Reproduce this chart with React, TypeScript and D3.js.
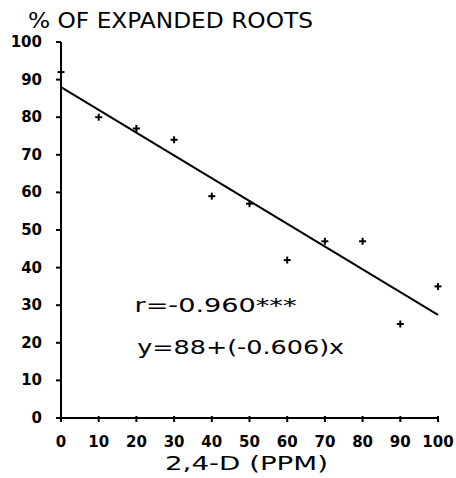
import React from "react";
import * as d3 from "d3";

// 2,4-D concentration (ppm) and % of expanded roots
const ppm = [0, 10, 20, 30, 40, 50, 60, 70, 80, 90, 100];
const expanded = [92, 80, 77, 74, 59, 57, 42, 47, 47, 25, 35];
const xTicks = [0, 10, 20, 30, 40, 50, 60, 70, 80, 90, 100];
const yTicks = [0, 10, 20, 30, 40, 50, 60, 70, 80, 90, 100];
const intercept = 88;
const slope = -0.606;
const rLabel = "r=-0.960***";
const eqLabel = "y=88+(-0.606)x";

const width = 456;
const height = 478;
const plain = "'DejaVu Sans', Arial, sans-serif";

export default function App() {
  const x = d3.scaleLinear().domain([0, 100]).range([61, 438]);
  const y = d3.scaleLinear().domain([0, 100]).range([418, 42]);

  const fit = d3
    .line<number>()
    .x((d) => x(d))
    .y((d) => y(intercept + slope * d));

  return (
    <svg
      width={width}
      height={height}
      style={{ position: "absolute", left: 0, top: 0, background: "white" }}
    >
      {/* title */}
      <text
        x={28}
        y={28}
        fontFamily={plain}
        fontSize={21}
        textLength={285}
        lengthAdjust="spacingAndGlyphs"
      >
        % OF EXPANDED ROOTS
      </text>

      {/* y axis */}
      <line x1={x(0)} x2={x(0)} y1={y(100)} y2={y(0)} stroke="black" strokeWidth={2} />
      {yTicks.map((t) => (
        <g key={"y" + t}>
          <line x1={x(0) - 5} x2={x(0)} y1={y(t)} y2={y(t)} stroke="black" strokeWidth={2} />
          <text
            x={42}
            y={y(t) + 5}
            textAnchor="end"
            fontFamily={plain}
            fontWeight="bold"
            fontSize={15}
          >
            {t}
          </text>
        </g>
      ))}

      {/* x axis */}
      <line x1={x(0)} x2={x(100)} y1={y(0)} y2={y(0)} stroke="black" strokeWidth={2} />
      {xTicks.map((t) => (
        <g key={"x" + t}>
          <line x1={x(t)} x2={x(t)} y1={y(0) - 2} y2={y(0) + 4} stroke="black" strokeWidth={2} />
          <text
            x={x(t)}
            y={447}
            textAnchor="middle"
            fontFamily={plain}
            fontWeight="bold"
            fontSize={15}
          >
            {t}
          </text>
        </g>
      ))}
      <text
        x={165}
        y={470}
        fontFamily={plain}
        fontSize={20}
        textLength={163}
        lengthAdjust="spacingAndGlyphs"
      >
        2,4-D (PPM)
      </text>

      {/* regression line */}
      <path d={fit([0, 100]) || ""} fill="none" stroke="black" strokeWidth={2} />

      {/* data points */}
      {ppm.map((p, i) => (
        <g key={"p" + i} stroke="black" strokeWidth={2}>
          <line x1={x(p) - 3.5} x2={x(p) + 3.5} y1={y(expanded[i])} y2={y(expanded[i])} />
          <line x1={x(p)} x2={x(p)} y1={y(expanded[i]) - 3.5} y2={y(expanded[i]) + 3.5} />
        </g>
      ))}

      {/* annotations */}
      <text
        x={x(19.5)}
        y={y(30) + 7}
        fontFamily={plain}
        fontSize={19}
        textLength={162}
        lengthAdjust="spacingAndGlyphs"
      >
        {rLabel}
      </text>
      <text
        x={x(20.2)}
        y={y(20) + 11}
        fontFamily={plain}
        fontSize={19}
        textLength={207}
        lengthAdjust="spacingAndGlyphs"
      >
        {eqLabel}
      </text>
    </svg>
  );
}
